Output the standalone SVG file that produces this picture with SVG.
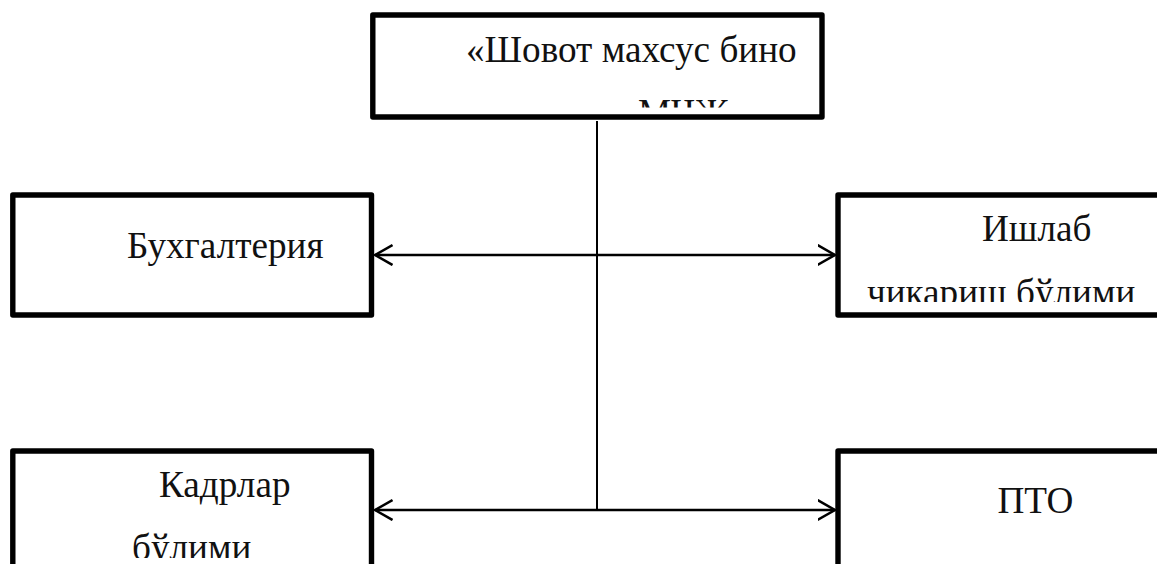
<svg xmlns="http://www.w3.org/2000/svg" width="1157" height="564" viewBox="0 0 1157 564">
<style>
.box{fill:#fff;stroke:#000;stroke-width:5.4;stroke-linejoin:round}
.lbl{font-family:"Liberation Serif","Noto Serif",serif;font-size:37.200px;fill:#111}
.c{fill:none;stroke:#000;stroke-width:2}
.a{fill:none;stroke:#000;stroke-width:2.5}
</style>
<defs>
<marker id="arrow" markerUnits="userSpaceOnUse" markerWidth="20" markerHeight="24" refX="17.5" refY="11" orient="auto-start-reverse"><path d="M0 1L17.5 11L0 21" fill="none" stroke="#000" stroke-width="2.5"/></marker>
<clipPath id="c1"><rect x="375" y="20" width="445" height="87.500"/></clipPath>
<clipPath id="c2"><rect x="840" y="198" width="317" height="104"/></clipPath>
<clipPath id="c3"><rect x="15" y="454" width="354" height="104"/></clipPath>
</defs>
<rect width="1157" height="564" fill="#fff"/>
<g id="node-top"><rect class="box" x="372.800" y="15" width="449.200" height="102"/><g clip-path="url(#c1)"><text class="lbl" x="466" y="62">«Шовот махсус бино</text><text class="lbl" x="638" y="125">МЧЖ</text></g></g>
<g id="node-buh"><rect class="box" x="12.800" y="195" width="358.700" height="120"/><text class="lbl" x="127" y="257.500">Бухгалтерия</text></g>
<g id="node-ishlab"><rect class="box" x="838" y="195" width="340" height="120"/><g clip-path="url(#c2)"><text class="lbl" x="982" y="241">Ишлаб</text><text class="lbl" x="867" y="305">чикариш бўлими</text></g></g>
<g id="node-kadr"><rect class="box" x="12.800" y="451" width="358.700" height="140"/><g clip-path="url(#c3)"><text class="lbl" x="159" y="497">Кадрлар</text><text class="lbl" x="132" y="560">бўлими</text></g></g>
<g id="node-pto"><rect class="box" x="838" y="451" width="340" height="140"/><text class="lbl" x="997.500" y="513">ПТО</text></g>
<g id="connectors">
<path class="c" d="M597 121V510"/>
<path class="a" d="M375 255H835" marker-start="url(#arrow)" marker-end="url(#arrow)"/>
<path class="a" d="M375 510H835" marker-start="url(#arrow)" marker-end="url(#arrow)"/>
</g>
</svg>
